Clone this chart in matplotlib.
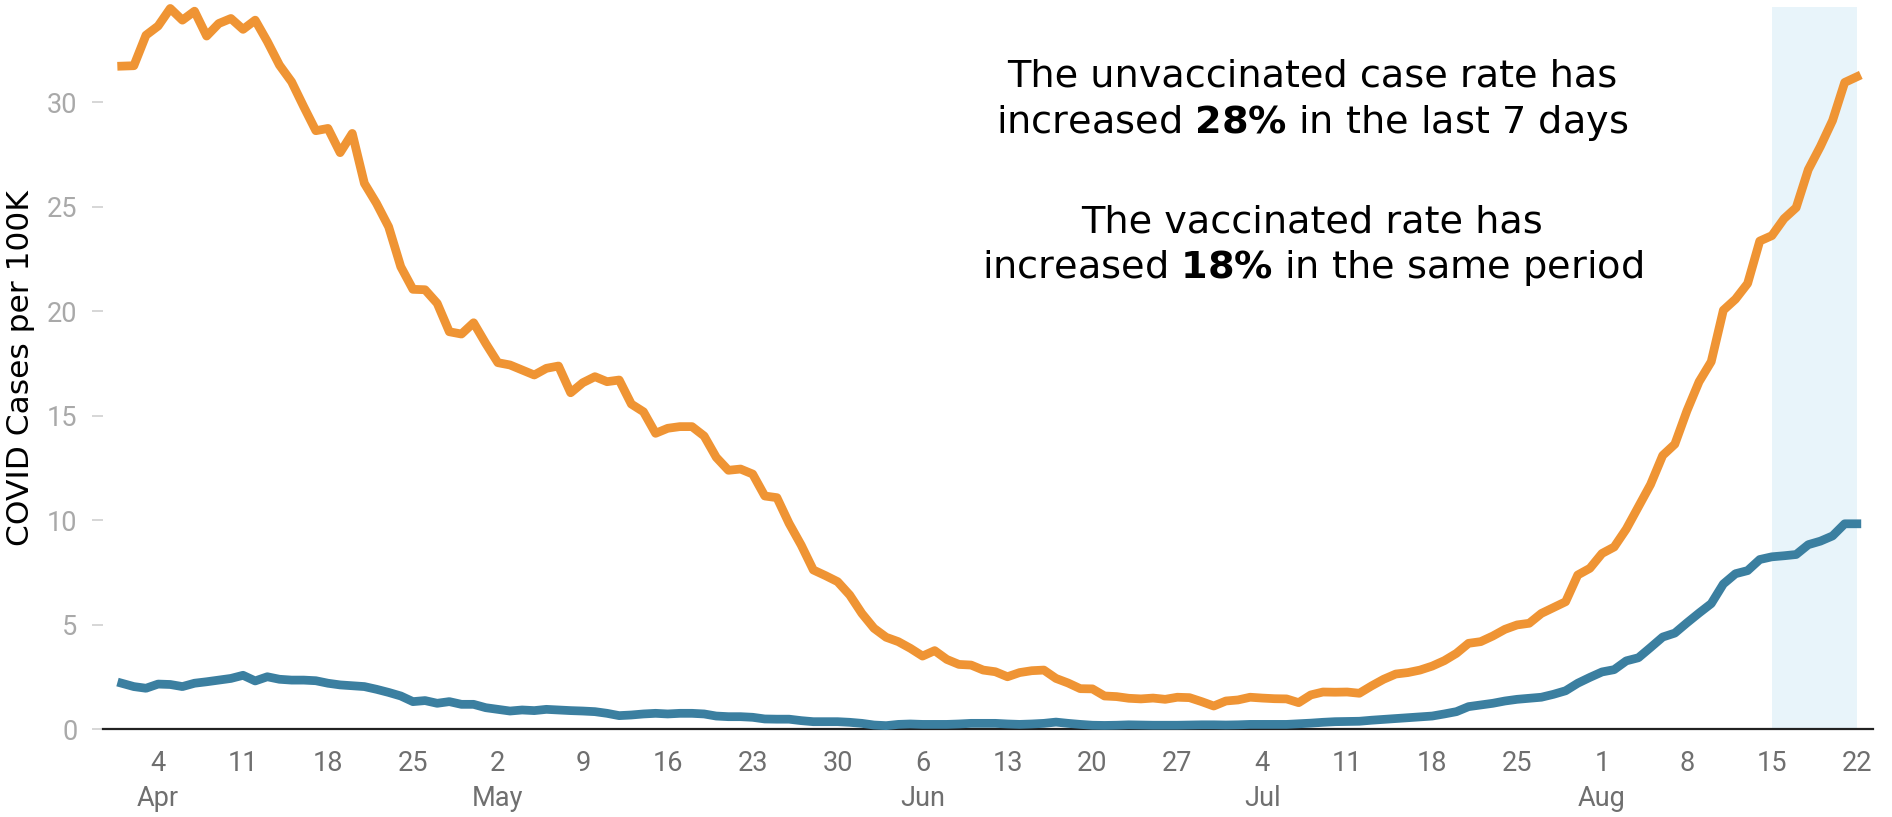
import matplotlib
matplotlib.use("Agg")
import matplotlib.pyplot as plt
import pandas as pd

# daily case rates per 100K, Apr 1 - Aug 22 2021
dates = pd.date_range("2021-04-01", "2021-08-22", freq="D")

unvaccinated = [
    31.72, 31.74, 33.20, 33.64, 34.48, 33.92, 34.35, 33.16, 33.76, 34.00,
    33.48, 33.92, 32.90, 31.77, 30.97, 29.78, 28.63, 28.74, 27.58, 28.50,
    26.11, 25.15, 24.03, 22.12, 21.04, 21.02, 20.37, 19.01, 18.90, 19.44,
    18.45, 17.53, 17.42, 17.18, 16.94, 17.26, 17.37, 16.09, 16.57, 16.86,
    16.62, 16.70, 15.55, 15.18, 14.15, 14.39, 14.47, 14.47, 14.02, 13.00,
    12.38, 12.44, 12.20, 11.15, 11.07, 9.84, 8.80, 7.61, 7.34, 7.05,
    6.41, 5.53, 4.82, 4.39, 4.18, 3.86, 3.49, 3.75, 3.33, 3.09,
    3.06, 2.82, 2.74, 2.50, 2.70, 2.79, 2.82, 2.42, 2.20, 1.93,
    1.92, 1.58, 1.55, 1.47, 1.44, 1.48, 1.42, 1.52, 1.50, 1.31,
    1.10, 1.34, 1.39, 1.52, 1.48, 1.45, 1.44, 1.26, 1.63, 1.77,
    1.76, 1.77, 1.71, 2.06, 2.38, 2.63, 2.70, 2.82, 3.01, 3.27,
    3.62, 4.10, 4.18, 4.45, 4.77, 4.98, 5.06, 5.53, 5.81, 6.09,
    7.37, 7.69, 8.40, 8.71, 9.57, 10.64, 11.70, 13.09, 13.63, 15.23,
    16.62, 17.58, 20.04, 20.57, 21.32, 23.35, 23.61, 24.42, 24.95, 26.77,
    27.88, 29.12, 30.94, 31.21,
]

vaccinated = [
    2.19, 2.03, 1.95, 2.15, 2.13, 2.03, 2.19, 2.26, 2.34, 2.42,
    2.57, 2.30, 2.50, 2.38, 2.34, 2.34, 2.31, 2.19, 2.11, 2.07,
    2.03, 1.90, 1.75, 1.58, 1.31, 1.36, 1.23, 1.31, 1.18, 1.18,
    1.02, 0.94, 0.86, 0.91, 0.88, 0.94, 0.91, 0.88, 0.86, 0.83,
    0.75, 0.64, 0.67, 0.72, 0.75, 0.72, 0.75, 0.75, 0.72, 0.62,
    0.59, 0.59, 0.56, 0.48, 0.47, 0.47, 0.40, 0.35, 0.35, 0.35,
    0.32, 0.27, 0.19, 0.16, 0.22, 0.24, 0.22, 0.22, 0.22, 0.24,
    0.27, 0.27, 0.27, 0.24, 0.22, 0.24, 0.27, 0.33, 0.27, 0.22,
    0.18, 0.17, 0.18, 0.20, 0.19, 0.18, 0.18, 0.18, 0.19, 0.20,
    0.20, 0.19, 0.20, 0.22, 0.22, 0.22, 0.22, 0.25, 0.28, 0.32,
    0.35, 0.36, 0.37, 0.42, 0.46, 0.50, 0.54, 0.58, 0.62, 0.72,
    0.83, 1.07, 1.15, 1.23, 1.34, 1.42, 1.47, 1.52, 1.66, 1.83,
    2.19, 2.47, 2.73, 2.84, 3.26, 3.41, 3.90, 4.40, 4.59, 5.08,
    5.55, 6.00, 6.94, 7.43, 7.58, 8.11, 8.24, 8.29, 8.35, 8.82,
    8.99, 9.24, 9.82, 9.82,
]

tick_dates = pd.to_datetime([
    "2021-04-04", "2021-04-11", "2021-04-18", "2021-04-25", "2021-05-02",
    "2021-05-09", "2021-05-16", "2021-05-23", "2021-05-30", "2021-06-06",
    "2021-06-13", "2021-06-20", "2021-06-27", "2021-07-04", "2021-07-11",
    "2021-07-18", "2021-07-25", "2021-08-01", "2021-08-08", "2021-08-15",
    "2021-08-22",
])
tick_labels = [
    "4\nApr", "11", "18", "25", "2\nMay", "9", "16", "23", "30", "6\nJun",
    "13", "20", "27", "4\nJul", "11", "18", "25", "1\nAug", "8", "15", "22",
]
y_ticks = [0, 5, 10, 15, 20, 25, 30]

last_week = (pd.Timestamp("2021-08-15"), pd.Timestamp("2021-08-22"))

note_lines = [
    "The unvaccinated case rate has",
    r"increased $\mathbf{28\%}$ in the last 7 days",
    "The vaccinated rate has",
    r"increased $\mathbf{18\%}$ in the same period",
]

ORANGE = "#ef9434"
BLUE = "#3b7fa0"
W, H = 1892, 817


def make_plot():
    fig = plt.figure(figsize=(W / 100, H / 100), dpi=100)
    ax = fig.add_axes([102.5 / W, 1 - 729 / H, 1770 / W, 722 / H])

    ax.axvspan(last_week[0], last_week[1], color="#e8f4fa", zorder=0, lw=0)
    ax.plot(dates, unvaccinated, color=ORANGE, lw=6.3, clip_on=False, zorder=3)
    ax.plot(dates, vaccinated, color=BLUE, lw=6.3, clip_on=False, zorder=3)

    ax.set_xlim(pd.Timestamp("2021-03-30 10:00"), pd.Timestamp("2021-08-23 07:00"))
    ax.set_ylim(0, 34.55)

    for side in ["left", "top", "right"]:
        ax.spines[side].set_visible(False)
    ax.spines["bottom"].set_color("#222222")
    ax.spines["bottom"].set_linewidth(1.6)
    ax.spines["bottom"].set_zorder(2)

    ax.set_xticks(tick_dates)
    ax.set_xticklabels(tick_labels, family="Roboto", fontsize=19.5, color="#6f6f6f")
    for lbl in ax.get_xticklabels():
        lbl.set_linespacing(1.4)
    ax.tick_params(axis="x", length=0, pad=15)

    ax.set_yticks(y_ticks)
    ax.set_yticklabels([str(v) for v in y_ticks], family="Roboto", fontsize=19.5,
                       color="#a9a9a9")
    ax.tick_params(axis="y", length=8, width=1.2, color="#d0d0d0", pad=10)

    fig.text(21 / W, 1 - 368 / H, "COVID Cases per 100K", rotation=90,
             ha="center", va="center", family="DejaVu Sans", fontsize=22.5,
             color="black")

    # annotation block, centred over the right part of the chart
    baselines = [86.7, 133, 232, 278]
    for line, b in zip(note_lines, baselines):
        fig.text(1312 / W, 1 - b / H, line, ha="center", va="baseline",
                 family="DejaVu Sans", fontsize=27.5, color="black")

    fig.savefig("out.png", dpi=100)


if __name__ == "__main__":
    make_plot()
